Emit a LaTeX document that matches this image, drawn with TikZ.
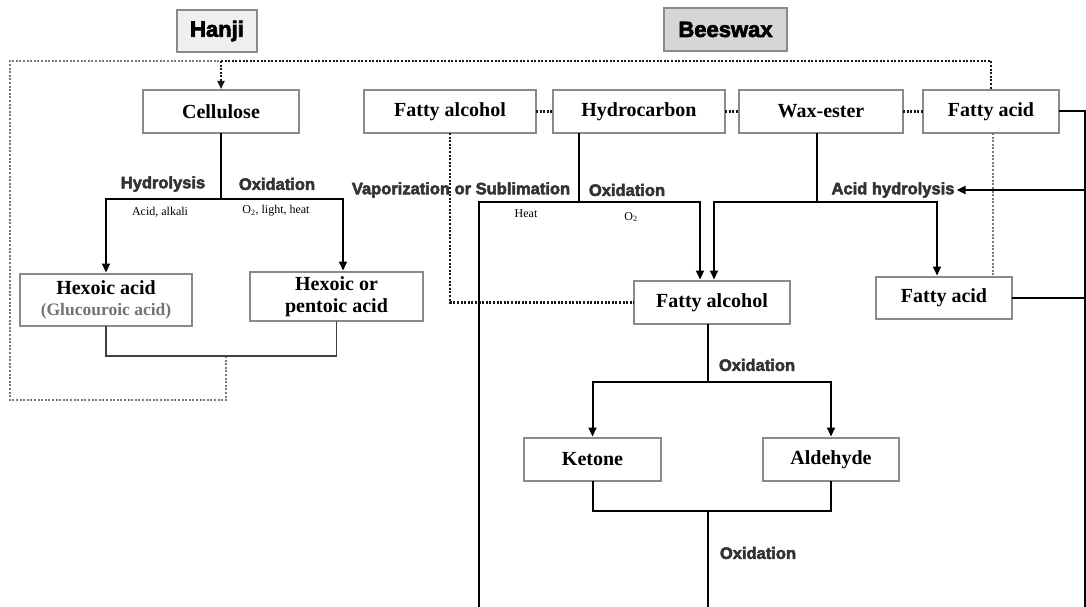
\documentclass[tikz,border=0pt]{standalone}
\usepackage{fontspec}
\setmainfont{Liberation Serif}
\newfontfamily\lab[FakeBold=3]{Liberation Sans Bold}
\usetikzlibrary{arrows.meta,calc}
\definecolor{boxgrey}{HTML}{8A8A8A}
\definecolor{labgrey}{HTML}{333333}
\definecolor{dotgrey}{HTML}{7A7A7A}
\definecolor{hanjifill}{HTML}{EFEFEF}
\definecolor{beefill}{HTML}{D6D6D6}
\tikzset{
  box/.style={draw=boxgrey, line width=1.3pt, fill=white, inner sep=0pt, outer sep=0pt,
    font=\bfseries\fontsize{20}{22}\selectfont, align=center, minimum height=43pt},
  title/.style={draw=boxgrey, line width=1.3pt, inner sep=0pt, outer sep=0pt,
    font=\lab\fontsize{22}{24}\selectfont},
  lab/.style={inner sep=0pt, text=labgrey, font=\lab\fontsize{16.5}{18}\selectfont},
  sm/.style={inner sep=0pt, font=\fontsize{12}{14}\selectfont},
  ln/.style={line width=2pt, draw=black},
  arr/.style={line width=2pt, draw=black, -{Triangle[length=9pt,width=8pt]}, shorten >=1.5pt},
  thin/.style={line width=1.4pt, draw=black!75},
  dotline/.style={line width=2.2pt, dash pattern=on 2pt off 1.6pt, draw=black!90},
  gdot/.style={line width=2.2pt, dash pattern=on 2pt off 1.6pt, draw=dotgrey},
}
\begin{document}
\begin{tikzpicture}[x=1pt,y=-1pt]
\useasboundingbox (0,0) rectangle (1086,607);
% titles
\node[title, fill=hanjifill, minimum width=80pt, minimum height=42pt] (hanji) at (217,31) {Hanji};
\node[title, fill=beefill, minimum width=123pt, minimum height=43pt] (bees) at (725.5,29.5) {Beeswax};
% boxes
\node[box, minimum width=156pt] (cell) at (221,111.5) {Cellulose};
\node[box, minimum width=172pt] (falc) at (450,111.5) {Fatty alcohol};
\node[box, minimum width=172pt] (hydro) at (639,111.5) {Hydrocarbon};
\node[box, minimum width=164pt] (wax) at (821,111.5) {Wax-ester};
\node[box, minimum width=136pt] (facid) at (991,111.5) {Fatty acid};
\node[box, minimum width=172pt, minimum height=52pt] (hex1) at (106,300)
  {\fontsize{20}{18}\selectfont Hexoic acid\\[-1pt]{\color{black!55}\fontsize{17.5}{18}\selectfont(Glucouroic acid)}};
\node[box, minimum width=173pt, minimum height=49pt] (hex2) at (336.5,296.5)
  {\fontsize{20}{15.5}\selectfont Hexoic or\\pentoic acid};
\node[box, minimum width=156pt] (falc2) at (712,302.5) {Fatty alcohol};
\node[box, minimum width=136pt, minimum height=42pt] (facid2) at (944,298) {Fatty acid};
\node[box, minimum width=137pt] (ket) at (592.5,459.5) {Ketone};
\node[box, minimum width=136pt] (ald) at (831,459.5) {Aldehyde};
% labels
\node[lab] (hyd) at (163,184) {Hydrolysis};
\node[lab] (ox1) at (277,184) {Oxidation};
\node[sm] (aa) at (160,212) {Acid, alkali};
\node[sm] (olh) at (276,211) {O\textsubscript{2}, light, heat};
\node[lab] (vs) at (461,190) {Vaporization or Sublimation};
\node[lab] (ox2) at (627,190) {Oxidation};
\node[lab] (ah) at (893,190) {Acid hydrolysis};
\node[sm] (heat) at (526,214) {Heat};
\node[sm] (o2) at (631,217) {O\textsubscript{2}};
\node[lab] (ox3) at (757,365) {Oxidation};
\node[lab] (ox4) at (758,553) {Oxidation};
% coordinates
\coordinate (dl) at (10,61);
\coordinate (dr) at (991,61);
\coordinate (dbl) at (10,400);
\coordinate (dbr) at (226,400);
\coordinate (hexb) at (226,356);
\coordinate (jc) at (221,199);
\coordinate (hj) at (579,202);
\coordinate (hl) at (479,202);
\coordinate (hbot) at (479,607);
\coordinate (hr) at (700,202);
\coordinate (wj) at (817,202);
\coordinate (wl) at (714,202);
\coordinate (wr) at (937,202);
\coordinate (rt) at (1085,111.5);
\coordinate (rb) at (1085,607);
\coordinate (gx) at (993,0);
\coordinate (fj) at (708,382);
\coordinate (bj) at (708,511);
\coordinate (bbot) at (708,607);
% dotted frame
\draw[gdot] (hexb) -- (dbr) -- (dbl) -- (dl) -- (cell.north |- dl);
\draw[dotline] (cell.north |- dl) -- (dr) -- (facid.north);
\draw[dotline, -{Triangle[length=8pt,width=7pt]}, shorten >=1pt] (cell.north |- dl) -- (cell.north);
\draw[dotline] (falc.east) -- (hydro.west);
\draw[dotline] (hydro.east) -- (wax.west);
\draw[dotline] (wax.east) -- (facid.west);
\draw[dotline] (falc.south) |- (falc2.west);
\draw[gdot] (facid.south -| gx) -- (facid2.north -| gx);
% cellulose
\draw[ln] (cell.south) -- (jc);
\draw[arr] (jc) -| (hex1.north);
\draw[arr] (jc) -| ($(hex2.north)+(6.5,0)$);
\draw[thin] (hex1.south) |- (hexb) -| (hex2.south);
% hydrocarbon
\draw[ln] (hydro.south -| hj) -- (hj);
\draw[arr] (hbot) -- (hl) -- (hr) -- (hr |- falc2.north);
% wax ester
\draw[ln] (wax.south -| wj) -- (wj);
\draw[arr] (wj) -- (wl) -- (wl |- falc2.north);
\draw[arr] (wj) -- (wr) -- (wr |- facid2.north);
% right line
\draw[ln] (facid.east) -- (rt) -- (rb);
\draw[ln] (facid2.east) -- (facid2.east -| rt);
\draw[arr, shorten >=2pt] (rt |- ah) -- (ah.east);
% fatty alcohol oxidation
\draw[ln] (falc2.south -| fj) -- (fj);
\draw[arr] (fj) -| (ket.north);
\draw[arr] (fj) -| (ald.north);
\draw[ln] (ket.south) |- (bj) -| (ald.south);
\draw[ln] (bj) -- (bbot);
\end{tikzpicture}
\end{document}
